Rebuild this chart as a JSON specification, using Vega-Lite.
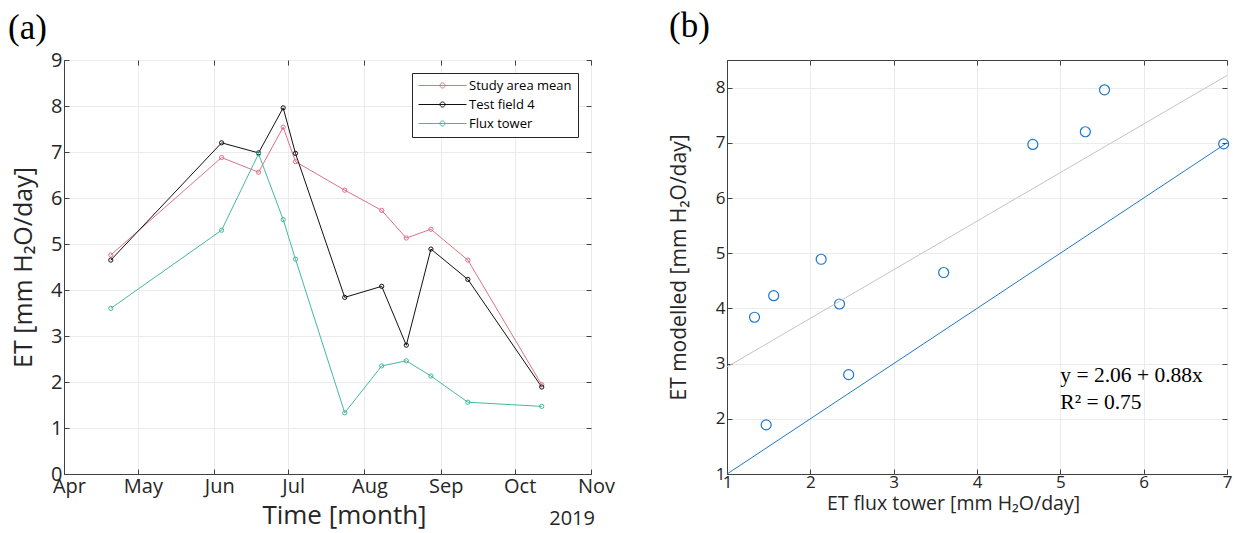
{
  "$schema": "https://vega.github.io/schema/vega-lite/v6.json",
  "padding": {"left": 7, "top": 8, "right": 5, "bottom": 0},
  "spacing": 51,
  "resolve": {"legend": {"color": "independent"}, "scale": {"color": "independent"}},
  "config": {
    "font": "Open Sans",
    "view": {"stroke": "#404040", "strokeWidth": 1},
    "axis": {
      "domainColor": "#404040",
      "tickColor": "#404040",
      "labelColor": "#262626",
      "titleColor": "#262626",
      "gridColor": "#ebebeb",
      "labelFont": "Open Sans",
      "titleFont": "Open Sans",
      "titleFontWeight": "normal",
      "tickSize": -5,
      "labelFlush": false,
      "labelOverlap": false
    },
    "title": {"font": "Liberation Serif", "fontSize": 35, "fontWeight": "normal", "color": "#000", "anchor": "start", "frame": "group"}
  },
  "hconcat": [
    {
      "width": 527,
      "height": 414,
      "title": {"text": "(a)", "dx": -56, "offset": 4},
      "data": {"values": [
        {"date": "2019-04-20", "series": "Study area mean", "et": 4.76},
        {"date": "2019-06-04", "series": "Study area mean", "et": 6.88},
        {"date": "2019-06-19", "series": "Study area mean", "et": 6.56},
        {"date": "2019-06-29", "series": "Study area mean", "et": 7.54},
        {"date": "2019-07-04", "series": "Study area mean", "et": 6.79},
        {"date": "2019-07-24", "series": "Study area mean", "et": 6.17},
        {"date": "2019-08-08", "series": "Study area mean", "et": 5.73},
        {"date": "2019-08-18", "series": "Study area mean", "et": 5.13},
        {"date": "2019-08-28", "series": "Study area mean", "et": 5.32},
        {"date": "2019-09-12", "series": "Study area mean", "et": 4.65},
        {"date": "2019-10-12", "series": "Study area mean", "et": 1.94},
        {"date": "2019-04-20", "series": "Test field 4", "et": 4.65},
        {"date": "2019-06-04", "series": "Test field 4", "et": 7.20},
        {"date": "2019-06-19", "series": "Test field 4", "et": 6.98},
        {"date": "2019-06-29", "series": "Test field 4", "et": 7.96},
        {"date": "2019-07-04", "series": "Test field 4", "et": 6.97},
        {"date": "2019-07-24", "series": "Test field 4", "et": 3.84},
        {"date": "2019-08-08", "series": "Test field 4", "et": 4.08},
        {"date": "2019-08-18", "series": "Test field 4", "et": 2.80},
        {"date": "2019-08-28", "series": "Test field 4", "et": 4.89},
        {"date": "2019-09-12", "series": "Test field 4", "et": 4.23},
        {"date": "2019-10-12", "series": "Test field 4", "et": 1.89},
        {"date": "2019-04-20", "series": "Flux tower", "et": 3.60},
        {"date": "2019-06-04", "series": "Flux tower", "et": 5.30},
        {"date": "2019-06-19", "series": "Flux tower", "et": 6.96},
        {"date": "2019-06-29", "series": "Flux tower", "et": 5.53},
        {"date": "2019-07-04", "series": "Flux tower", "et": 4.67},
        {"date": "2019-07-24", "series": "Flux tower", "et": 1.33},
        {"date": "2019-08-08", "series": "Flux tower", "et": 2.35},
        {"date": "2019-08-18", "series": "Flux tower", "et": 2.46},
        {"date": "2019-08-28", "series": "Flux tower", "et": 2.13},
        {"date": "2019-09-12", "series": "Flux tower", "et": 1.56},
        {"date": "2019-10-12", "series": "Flux tower", "et": 1.47}
      ]},
      "layer": [
        {
          "mark": {"type": "line", "strokeWidth": 1},
          "encoding": {
            "x": {"field": "date", "type": "temporal",
              "scale": {"type": "utc", "domain": [{"year": 2019, "month": 4, "date": 1, "utc": true}, {"year": 2019, "month": 11, "date": 1, "utc": true}]},
              "axis": {"orient": "bottom", "title": "Time [month]", "labelExpr": "utcFormat(datum.value, '%b')",
                "values": [
                  {"year": 2019, "month": 4, "date": 1, "utc": true},
                  {"year": 2019, "month": 5, "date": 1, "utc": true},
                  {"year": 2019, "month": 6, "date": 1, "utc": true},
                  {"year": 2019, "month": 7, "date": 1, "utc": true},
                  {"year": 2019, "month": 8, "date": 1, "utc": true},
                  {"year": 2019, "month": 9, "date": 1, "utc": true},
                  {"year": 2019, "month": 10, "date": 1, "utc": true},
                  {"year": 2019, "month": 11, "date": 1, "utc": true}
                ],
                "labelFontSize": 20, "titleFontSize": 26, "labelPadding": 7, "titlePadding": 6, "labelOffset": 5, "titleX": 280, "grid": true}},
            "y": {"field": "et", "type": "quantitative", "scale": {"domain": [0, 9], "nice": false},
              "axis": {"orient": "left", "title": "ET [mm H₂O/day]", "values": [0, 1, 2, 3, 4, 5, 6, 7, 8, 9], "format": "d",
                "labelFontSize": 20, "titleFontSize": 25, "labelPadding": 7, "titlePadding": 14, "grid": true}},
            "color": {"field": "series", "type": "nominal",
              "scale": {"domain": ["Study area mean", "Test field 4", "Flux tower"], "range": ["#e07087", "#111111", "#45b89f"]},
              "legend": {"title": null, "orient": "top-right", "offset": 13, "strokeColor": "#262626", "fillColor": "white",
                "padding": 6, "labelFontSize": 13, "labelColor": "#000", "labelOffset": 38, "rowPadding": 5,
                "symbolType": "M-1,0H7M3.42,0A0.42,0.42,0,1,1,2.58,0A0.42,0.42,0,1,1,3.42,0", "symbolSize": 144, "symbolStrokeWidth": 1, "symbolFillColor": "transparent"}}
          }
        },
        {
          "mark": {"type": "point", "filled": false, "size": 18, "strokeWidth": 1, "opacity": 1},
          "encoding": {
            "x": {"field": "date", "type": "temporal", "axis": null},
            "y": {"field": "et", "type": "quantitative", "axis": null},
            "color": {"field": "series", "type": "nominal"}
          }
        },
        {
          "data": {"values": [{"label": "2019"}]},
          "mark": {"type": "text", "align": "right", "baseline": "top", "fontSize": 20, "color": "#262626", "dx": 4, "dy": 35},
          "encoding": {
            "x": {"datum": {"year": 2019, "month": 11, "date": 1, "utc": true}, "type": "temporal",
              "axis": {"orient": "top", "title": null, "labels": false, "domain": false, "grid": false,
                "values": [
                  {"year": 2019, "month": 4, "date": 1, "utc": true},
                  {"year": 2019, "month": 5, "date": 1, "utc": true},
                  {"year": 2019, "month": 6, "date": 1, "utc": true},
                  {"year": 2019, "month": 7, "date": 1, "utc": true},
                  {"year": 2019, "month": 8, "date": 1, "utc": true},
                  {"year": 2019, "month": 9, "date": 1, "utc": true},
                  {"year": 2019, "month": 10, "date": 1, "utc": true},
                  {"year": 2019, "month": 11, "date": 1, "utc": true}
                ]}},
            "y": {"datum": 0, "type": "quantitative",
              "axis": {"orient": "right", "title": null, "labels": false, "domain": false, "grid": false, "values": [0, 1, 2, 3, 4, 5, 6, 7, 8, 9]}},
            "text": {"field": "label"}
          }
        }
      ],
      "resolve": {"axis": {"x": "independent", "y": "independent"}}
    },
    {
      "width": 500,
      "height": 414,
      "title": {"text": "(b)", "dx": -58, "offset": 16},
      "layer": [
        {
          "data": {"values": [
            {"flux": 1.33, "model": 3.84},
            {"flux": 1.47, "model": 1.89},
            {"flux": 1.56, "model": 4.23},
            {"flux": 2.13, "model": 4.89},
            {"flux": 2.35, "model": 4.08},
            {"flux": 2.46, "model": 2.80},
            {"flux": 3.60, "model": 4.65},
            {"flux": 4.67, "model": 6.97},
            {"flux": 5.30, "model": 7.20},
            {"flux": 5.53, "model": 7.96},
            {"flux": 6.96, "model": 6.98}
          ]},
          "mark": {"type": "point", "filled": false, "size": 100, "strokeWidth": 1.2, "color": "#1f78c8", "opacity": 1},
          "encoding": {
            "x": {"field": "flux", "type": "quantitative", "scale": {"domain": [1, 7], "nice": false},
              "axis": {"orient": "bottom", "title": "ET flux tower [mm H₂O/day]", "values": [1, 2, 3, 4, 5, 6, 7], "format": "d",
                "labelFontSize": 17, "titleFontSize": 19.5, "labelPadding": 5, "titlePadding": 4, "titleX": 226, "grid": true}},
            "y": {"field": "model", "type": "quantitative", "scale": {"domain": [1, 8.5], "nice": false},
              "axis": {"orient": "left", "title": "ET modelled [mm H₂O/day]", "values": [1, 2, 3, 4, 5, 6, 7, 8], "format": "d",
                "labelFontSize": 17, "titleFontSize": 21, "labelPadding": 7, "titlePadding": 26, "grid": true}}
          }
        },
        {
          "data": {"values": [{"flux": 1, "model": 2.94}, {"flux": 7, "model": 8.22}]},
          "mark": {"type": "line", "color": "#c4c4c4", "strokeWidth": 1},
          "encoding": {
            "x": {"field": "flux", "type": "quantitative", "axis": null},
            "y": {"field": "model", "type": "quantitative", "axis": null}
          }
        },
        {
          "data": {"values": [{"flux": 1, "model": 1}, {"flux": 7, "model": 7}]},
          "mark": {"type": "line", "color": "#1f78c8", "strokeWidth": 1},
          "encoding": {
            "x": {"field": "flux", "type": "quantitative", "axis": null},
            "y": {"field": "model", "type": "quantitative", "axis": null}
          }
        },
        {
          "data": {"values": [
            {"flux": 5.0, "model": 2.67, "label": "y = 2.06 + 0.88x"},
            {"flux": 5.0, "model": 2.18, "label": "R² = 0.75"}
          ]},
          "mark": {"type": "text", "align": "left", "baseline": "alphabetic", "font": "Liberation Serif", "fontSize": 21.5, "color": "#000"},
          "encoding": {
            "x": {"field": "flux", "type": "quantitative",
              "axis": {"orient": "top", "title": null, "labels": false, "domain": false, "grid": false, "values": [1, 2, 3, 4, 5, 6, 7]}},
            "y": {"field": "model", "type": "quantitative",
              "axis": {"orient": "right", "title": null, "labels": false, "domain": false, "grid": false, "values": [1, 2, 3, 4, 5, 6, 7, 8]}},
            "text": {"field": "label"}
          }
        }
      ],
      "resolve": {"axis": {"x": "independent", "y": "independent"}}
    }
  ]
}
